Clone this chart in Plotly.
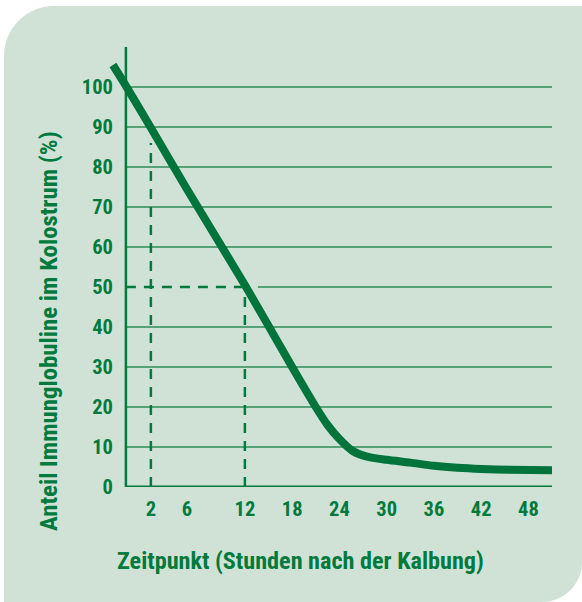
import numpy as np
import plotly.graph_objects as go

# ---------------- data ----------------
HOURS = [-1.04, 0, 2, 6, 12, 18, 21, 22.5, 24, 25.7, 27.5, 30, 33, 36, 39, 42, 45.6, 51]
VALUES = [105.5, 100.3, 89.8, 74.5, 50.5, 30, 20, 15.5, 12, 9, 7.6, 6.8, 6.1, 5.3, 4.8, 4.5, 4.3, 4.2]
X_TICKS = [2, 6, 12, 18, 24, 30, 36, 42, 48]
Y_TICKS = [0, 10, 20, 30, 40, 50, 60, 70, 80, 90, 100]
MARK_HOURS = [2, 12]          # dashed reference lines
MARK_LEVEL = 50

# ---------------- axis warp (the printed axis is not uniform) ----------------
WARP_HOURS = [0, 2, 6, 12, 48]
WARP_POS = [-3.11, 0.06, 4.63, 12, 48]


def to_axis(h):
    h = np.asarray(h, dtype=float)
    out = np.interp(h, WARP_HOURS, WARP_POS)
    lo = h < WARP_HOURS[0]
    out = np.where(lo, WARP_POS[0] + (h - WARP_HOURS[0]) * (12.5 / 7.875), out)
    hi = h > WARP_HOURS[-1]
    out = np.where(hi, WARP_POS[-1] + (h - WARP_HOURS[-1]), out)
    return out


GREEN = "#007a3d"
LINE_GREEN = "#00743a"
GRID_GREEN = "#2b8d55"
PANEL = "#d0e2d6"
FONT = "Roboto Condensed, Open Sans Condensed, DejaVu Sans Condensed, sans-serif"

W, H = 582, 602
ML, MR, MT, MB = 100, 30, 47, 115
X_RANGE = [-6.4, 51.0]
Y_RANGE = [0, 110]
x0_axis = float(to_axis(0))
x_end = X_RANGE[1]

fig = go.Figure()
fig.add_trace(go.Scatter(
    x=to_axis(HOURS), y=VALUES, mode="lines",
    line=dict(color=LINE_GREEN, width=8, shape="spline", smoothing=0.7),
    hoverinfo="skip", showlegend=False, cliponaxis=False,
))

# panel background (rounded top-left & bottom-right), in paper coords
pw = W - ML - MR
ph = H - MT - MB


def px(xp):
    return (xp - ML) / pw


def py(yp):
    return (H - MB - yp) / ph


k = 0.5523
r1, r2 = 50, 40
L, T, R, B = 4, 6, 582, 602
path = (
    f"M {px(L)},{py(T + r1)} "
    f"C {px(L)},{py(T + r1 - k * r1)} {px(L + r1 - k * r1)},{py(T)} {px(L + r1)},{py(T)} "
    f"L {px(R)},{py(T)} L {px(R)},{py(B - r2)} "
    f"C {px(R)},{py(B - r2 + k * r2)} {px(R - r2 + k * r2)},{py(B)} {px(R - r2)},{py(B)} "
    f"L {px(L)},{py(B)} Z"
)
shapes = [dict(type="path", path=path, xref="paper", yref="paper",
               fillcolor=PANEL, line=dict(width=0), layer="below")]

DASH = dict(color=GREEN, width=2.5, dash="10px,8px")
# grid lines
for v in Y_TICKS[1:]:
    if v == MARK_LEVEL:
        continue
    shapes.append(dict(type="line", xref="x", yref="y", x0=x0_axis, x1=x_end, y0=v, y1=v,
                       line=dict(color=GRID_GREEN, width=1.4), layer="below"))
# the 50 % line: solid right of the curve, dashed to the left
shapes.append(dict(type="line", xref="x", yref="y", x0=float(to_axis(13.65)), x1=x_end,
                   y0=MARK_LEVEL, y1=MARK_LEVEL, line=dict(color=GRID_GREEN, width=1.4), layer="below"))
shapes.append(dict(type="line", xref="x", yref="y", x0=x0_axis, x1=float(to_axis(MARK_HOURS[1])),
                   y0=MARK_LEVEL, y1=MARK_LEVEL, line=DASH, layer="below"))
# dashed verticals
shapes.append(dict(type="line", xref="x", yref="y", x0=float(to_axis(MARK_HOURS[0])), x1=float(to_axis(MARK_HOURS[0])),
                   y0=0, y1=86, line=DASH, layer="below"))
shapes.append(dict(type="line", xref="x", yref="y", x0=float(to_axis(MARK_HOURS[1])), x1=float(to_axis(MARK_HOURS[1])),
                   y0=0, y1=MARK_LEVEL, line=DASH, layer="below"))
# axis lines
shapes.append(dict(type="line", xref="x", yref="y", x0=x0_axis, x1=x0_axis, y0=0, y1=Y_RANGE[1],
                   line=dict(color=GREEN, width=2.5), layer="below"))
shapes.append(dict(type="line", xref="x", yref="y", x0=x0_axis, x1=x_end, y0=0, y1=0,
                   line=dict(color=GREEN, width=3), layer="below"))

tick_font = dict(family=FONT, size=20.5, color=GREEN, weight="bold")

fig.update_layout(
    width=W, height=H,
    margin=dict(l=ML, r=MR, t=MT, b=MB, pad=0),
    paper_bgcolor="white", plot_bgcolor="rgba(0,0,0,0)",
    shapes=shapes,
    xaxis=dict(range=X_RANGE, showgrid=False, zeroline=False, showline=False,
               tickmode="array", tickvals=to_axis(X_TICKS).tolist(), ticktext=[str(t) for t in X_TICKS],
               ticks="outside", ticklen=3, tickcolor="rgba(0,0,0,0)", tickfont=tick_font,
               fixedrange=True),
    yaxis=dict(range=Y_RANGE, showgrid=False, zeroline=False, showline=False,
               anchor="free", position=px(126),
               tickmode="array", tickvals=Y_TICKS, ticktext=[str(t) for t in Y_TICKS],
               ticks="outside", ticklen=9, tickcolor="rgba(0,0,0,0)", tickfont=tick_font,
               fixedrange=True),
    annotations=[
        dict(text="Zeitpunkt (Stunden nach der Kalbung)", xref="paper", yref="paper",
             x=px(300), y=py(561), xanchor="center", yanchor="middle", showarrow=False,
             font=dict(family=FONT, size=24.2, color=GREEN, weight="bold")),
        dict(text="Anteil Immunglobuline im Kolostrum (%)", xref="paper", yref="paper",
             x=px(48), y=py(331), xanchor="center", yanchor="middle", showarrow=False,
             textangle=-90,
             font=dict(family=FONT, size=24.8, color=GREEN, weight="bold")),
    ],
)

fig.write_html("out.html", config={"displayModeBar": False},
               post_script="document.body.style.margin='0px';")
